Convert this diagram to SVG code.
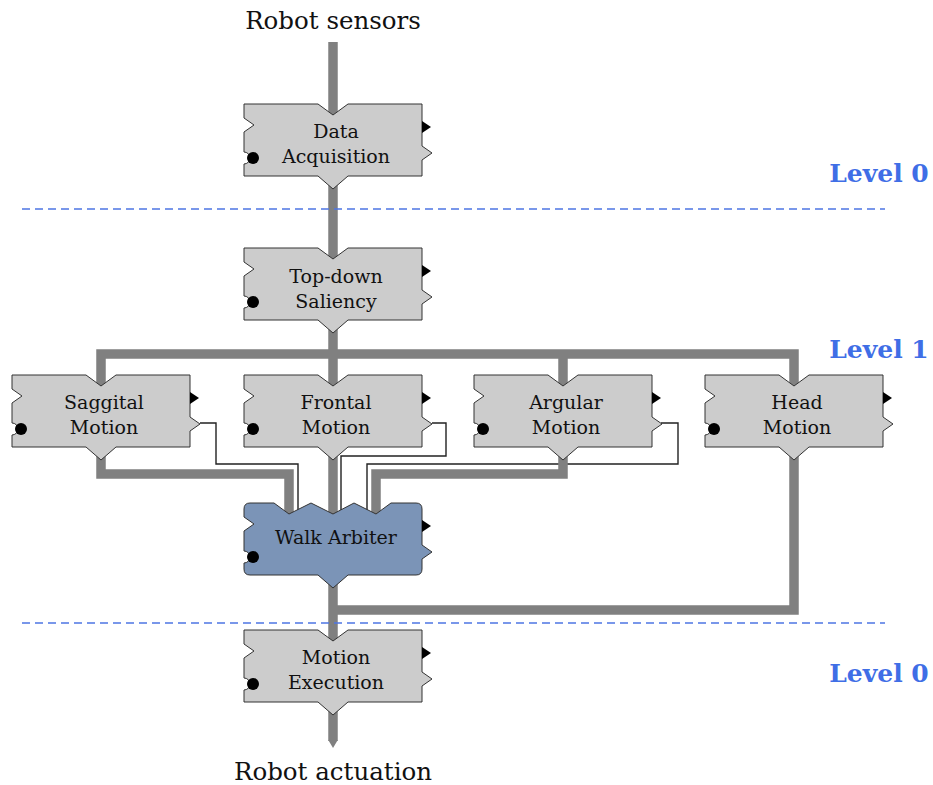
<svg xmlns="http://www.w3.org/2000/svg" xmlns:xlink="http://www.w3.org/1999/xlink" width="933" height="785" viewBox="0 0 933 785">
<style>
.thick{fill:none;stroke:#808080;stroke-width:9.5;stroke-linejoin:miter}
.thin{fill:none;stroke:#222;stroke-width:1.4}
.box{fill:#cccccc;stroke:#333;stroke-width:1}
.wa{fill:#7b94b7;stroke:#333;stroke-width:1}
.port{fill:#000}
.lbl{font-family:"DejaVu Serif","Liberation Serif",serif;font-size:19px;fill:#111;text-anchor:middle}
.io{font-family:"DejaVu Serif","Liberation Serif",serif;font-size:24.5px;fill:#111;text-anchor:middle}
.lvl{font-family:"DejaVu Serif","Liberation Serif",serif;font-size:25px;font-weight:bold;fill:#3f6ee6;text-anchor:middle}
.dash{stroke:#4d76e3;stroke-width:1.3;stroke-dasharray:8 5;fill:none}
</style>
<defs>
<g id="module">
<path class="box" d="M0,0 H74 L89,11 L104,0 H178 V42 L188,49 L178,56 V72 H104 L89,85 L74,72 H0 V60 A6,6 0 0 0 0,48 V28 L10,21 L0,14 Z"/>
<path class="port" d="M178,17 L187,23 L178,29 Z"/>
<circle class="port" cx="9" cy="54" r="6"/>
</g>
</defs>
<text class="io" x="333" y="29">Robot sensors</text>
<text class="io" x="333" y="780">Robot actuation</text>
<g id="connectors">
<path class="thin" d="M200,423 H216 V464 H298 V510"/>
<path class="thin" d="M432,423 H446 V456 H341 V510"/>
<path class="thin" d="M661,423 H678 V464 H367 V510"/>
<path class="thick" d="M333,42 V116"/>
<path class="thick" d="M333,176 V260"/>
<path class="thick" d="M333,320 V387"/>
<path class="thick" d="M101,387 V354 H794 V387"/>
<path class="thick" d="M563,354 V387"/>
<path class="thick" d="M101,447 V474 H289 V514"/>
<path class="thick" d="M333,447 V514"/>
<path class="thick" d="M563,447 V474 H376 V514"/>
<path class="thick" d="M794,447 V610 H333"/>
<path class="thick" d="M333,575 V641"/>
<path class="thick" d="M333,702 V741"/>
<path fill="#808080" d="M328.25,740 H337.75 L333,748 Z"/>
</g>
<g id="data-acquisition">
<use xlink:href="#module" href="#module" transform="translate(244,104)"/>
<text class="lbl" x="336" y="138">Data</text>
<text class="lbl" x="336" y="163">Acquisition</text>
</g>
<g id="top-down-saliency">
<use xlink:href="#module" href="#module" transform="translate(244,248)"/>
<text class="lbl" x="336" y="283">Top-down</text>
<text class="lbl" x="336" y="308">Saliency</text>
</g>
<g id="saggital-motion">
<use xlink:href="#module" href="#module" transform="translate(12,375)"/>
<text class="lbl" x="104" y="409">Saggital</text>
<text class="lbl" x="104" y="434">Motion</text>
</g>
<g id="frontal-motion">
<use xlink:href="#module" href="#module" transform="translate(244,375)"/>
<text class="lbl" x="336" y="409">Frontal</text>
<text class="lbl" x="336" y="434">Motion</text>
</g>
<g id="argular-motion">
<use xlink:href="#module" href="#module" transform="translate(474,375)"/>
<text class="lbl" x="566" y="409">Argular</text>
<text class="lbl" x="566" y="434">Motion</text>
</g>
<g id="head-motion">
<use xlink:href="#module" href="#module" transform="translate(705,375)"/>
<text class="lbl" x="797" y="409">Head</text>
<text class="lbl" x="797" y="434">Motion</text>
</g>
<g id="walk-arbiter">
<path class="wa" d="M250,503 H274 L289,514 L311,503 L333,514 L354,503 L376,514 L391,503 H416 Q422,503 422,509 V545 L432,552 L422,559 V569 Q422,575 416,575 H348 L333,588 L318,575 H250 Q244,575 244,569 V563 A6,6 0 0 0 244,551 V531 L254,524 L244,517 V509 Q244,503 250,503 Z"/>
<path class="port" d="M422,520 L431,526 L422,532 Z"/>
<circle class="port" cx="253" cy="557" r="6"/>
<text class="lbl" x="336" y="544">Walk Arbiter</text>
</g>
<g id="motion-execution">
<use xlink:href="#module" href="#module" transform="translate(244,630)"/>
<text class="lbl" x="336" y="664">Motion</text>
<text class="lbl" x="336" y="689">Execution</text>
</g>
<g id="levels">
<line class="dash" x1="22" y1="209" x2="885" y2="209"/>
<line class="dash" x1="22" y1="623" x2="885" y2="623"/>
<text class="lvl" x="879" y="182">Level 0</text>
<text class="lvl" x="879" y="358">Level 1</text>
<text class="lvl" x="879" y="682">Level 0</text>
</g>
</svg>
